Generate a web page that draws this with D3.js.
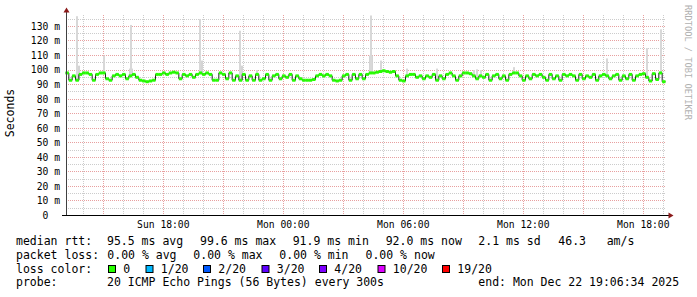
<!DOCTYPE html>
<html><head><meta charset="utf-8">
<script src="https://cdn.jsdelivr.net/npm/d3@7"></script>
<style>body{margin:0;background:#fff}svg{display:block}text{font-family:"DejaVu Sans Mono",monospace}</style>
</head><body><svg id="c" width="697" height="297"></svg>
<script>
// ---- data (10-minute steps, start Sun Dec 21 2025 13:06:34) ----
const startMs = Date.UTC(2025, 11, 21, 13, 6, 34);
const stepMin = 10;
const medianRtt = [
 98,93,96,93,97,98,98,97,93,97, 98,98,94,93,96,97,96,97,94,96,
 97,95,93,92.5,92,92.5,93,97,97,98, 97,98,98.5,98,94,97,96,97,95,97,
 98,97,98,97,93,93,98,97,94,98, 93,96,93,97,93,96,93,97,93,94,
 97,93,96,97,94,96,95,97,93,96, 94,93,93,93,93.5,96,97,96,97,96,
 93,92.5,93,96,97,93,97,94,97,94, 97,98,98,98.5,99,99.5,99,98.5,99,96,
 93,92.5,96,97,97,95,96,94,96,95, 97,93,96,94,97,98,96,93,96,98,
 98,97.5,96,94,96,95,97,93,96,97, 94,96,93,97,98,98,96,93,96,94,
 97,96,97,95,93,97,94,96,93,97, 96,97,96,93,97,94,96,95,97,93,
 96,97,96,94,96,97,93,96,94,97, 93,96,97,97.5,95,92.5,97.5,93.5,98,92
];
const spikeStep = [3, 11, 19, 40, 52, 57, 91, 94, 102, 111, 122, 123, 124, 134, 162, 174, 178];
const spikeHigh = [137, 110, 131, 135, 127, 100, 137.5, 106.5, 101, 101, 100, 100.5, 100, 102, 108, 115, 128];
const baseStep  = [3, 19, 40, 52, 91];
const baseHigh  = [103, 101, 106.5, 103, 110];
const yTicks = [0,10,20,30,40,50,60,70,80,90,100,110,120,130];
const xLabels = ["Sun 18:00","Mon 00:00","Mon 06:00","Mon 12:00","Mon 18:00"];
const lossLabels = ["0","1/20","2/20","3/20","4/20","10/20","19/20"];
const lossColors = ["#26ff00","#00b8ff","#0059ff","#5e00ff","#7e00ff","#dd00ff","#ff0000"];
const lossX = [108.5,146,203.5,262,319.5,378,442.5];
const rttStats = ["95.5 ms avg","99.6 ms max","91.9 ms min","92.0 ms now","2.1 ms sd"];
const rttX = [107,200,292.7,385.7,478.3];
const lossStats = ["0.00 % avg","0.00 % max","0.00 % min","0.00 % now"];
const lossStatX = [107.3,193.3,279.3,365.5];

// ---- scales ----
const t = i => new Date(startMs + i * stepMin * 60000);
const endDate = new Date(startMs + 30 * 3600000);
const x = d3.scaleUtc().domain([new Date(startMs), endDate]).range([65.5, 665.5]);
const y = d3.scaleLinear().domain([0, 137.5]).range([215.5, 15.5]);
const svg = d3.select("#c");
const px = v => Math.floor(v) + 0.5;

// ---- grid ----
const g = svg.append("g");
const minorY = d3.range(5, 137.5, 10);
g.selectAll(".gy").data(minorY).enter().append("line")
  .attr("x1", 66).attr("x2", 666).attr("y1", d => px(y(d))).attr("y2", d => px(y(d)))
  .attr("stroke", "#cccccc").attr("stroke-dasharray", "1,1");
const hours = d3.utcHour.range(new Date(startMs), endDate);
g.selectAll(".gx").data(hours.filter(h => h.getUTCHours() % 3 !== 0)).enter().append("line")
  .attr("y1", 15).attr("y2", 215).attr("x1", d => px(x(d))).attr("x2", d => px(x(d)))
  .attr("stroke", "#cccccc").attr("stroke-dasharray", "1,1");
g.selectAll(".my").data(yTicks.filter(d => d > 0)).enter().append("line")
  .attr("x1", 66).attr("x2", 666).attr("y1", d => px(y(d))).attr("y2", d => px(y(d)))
  .attr("stroke", "#e8a0a0").attr("stroke-dasharray", "1,1");
g.selectAll(".mx").data(hours.filter(h => h.getUTCHours() % 3 === 0)).enter().append("line")
  .attr("y1", 15).attr("y2", 215).attr("x1", d => px(x(d))).attr("x2", d => px(x(d)))
  .attr("stroke", "#e8a0a0").attr("stroke-dasharray", "1,1");

// ---- smoke ----
const sw = x(t(1)) - x(t(0));
svg.append("g").selectAll("rect").data(baseStep).enter().append("rect")
  .attr("x", d => Math.round(x(t(d)))).attr("width", 4)
  .attr("y", (d, i) => y(baseHigh[i]))
  .attr("height", (d, i) => Math.max(0, y(medianRtt[d]) - y(baseHigh[i])))
  .attr("fill", "#d4d4d4");
svg.append("g").selectAll("rect").data(spikeStep).enter().append("rect")
  .attr("x", d => Math.round(x(t(d)) + sw / 2 - 1)).attr("width", 2)
  .attr("y", (d, i) => y(spikeHigh[i]))
  .attr("height", (d, i) => Math.max(0, y(medianRtt[d]) - y(spikeHigh[i])))
  .attr("fill", "#d8d8d8");

// ---- median ----
const pts = medianRtt.map((v, i) => [x(t(i)), y(v)]);
pts.push([x(t(medianRtt.length)), y(medianRtt[medianRtt.length - 1])]);
svg.append("path").attr("d", d3.line().curve(d3.curveStepAfter)(pts))
  .attr("fill", "none").attr("stroke", "#202020").attr("stroke-width", 1);
svg.append("g").selectAll("rect").data(medianRtt).enter().append("rect")
  .attr("x", (d, i) => x(t(i))).attr("width", sw)
  .attr("y", d => y(d) - 1.5).attr("height", 3)
  .attr("fill", lossColors[0]);

// ---- axes ----
svg.append("line").attr("x1", 66.5).attr("x2", 66.5).attr("y1", 12).attr("y2", 216)
  .attr("stroke", "#404040");
svg.append("line").attr("x1", 62).attr("x2", 669).attr("y1", 215.5).attr("y2", 215.5)
  .attr("stroke", "#000");
svg.append("path").attr("d", "M63.5,12.5L66.5,7.5L69.5,12.5Z").attr("fill", "#8b1a1a");
svg.append("path").attr("d", "M668.5,212.5L673.5,215.5L668.5,218.5Z").attr("fill", "#8b1a1a");

// y labels
svg.append("g").selectAll("text").data(yTicks).enter().append("text")
  .attr("x", 60).attr("y", d => y(d)).attr("dy", "0.35em")
  .attr("text-anchor", "end").attr("font-size", "9.7px").attr("xml:space", "preserve")
  .text(d => d === 0 ? "0  " : d + " m");
// x labels
const labelTimes = hours.filter(h => h.getUTCHours() % 6 === 0);
svg.append("g").selectAll("text").data(labelTimes).enter().append("text")
  .attr("x", d => x(d)).attr("y", 228).attr("text-anchor", "middle").attr("font-size", "9.7px")
  .text((d, i) => xLabels[i]);

// y title
svg.append("text").attr("transform", "translate(14,113) rotate(-90)")
  .attr("text-anchor", "middle").attr("font-size", "11.5px").text("Seconds");
// watermark
svg.append("text").attr("transform", "translate(684.5,5) rotate(90)")
  .attr("font-size", "8.7px").attr("fill", "#b0b0b0").text("RRDTOOL / TOBI OETIKER");

// ---- legend ----
const L = svg.append("g").attr("font-size", "11.5px");
const rows = [245.3, 259, 272.7, 286.3];
L.append("text").attr("x", 16).attr("y", rows[0]).text("median rtt:");
rttStats.forEach((s, i) => L.append("text").attr("x", rttX[i]).attr("y", rows[0]).text(s));
L.append("text").attr("x", 558.3).attr("y", rows[0]).text("46.3");
L.append("text").attr("x", 606.7).attr("y", rows[0]).text("am/s");
L.append("text").attr("x", 16).attr("y", rows[1]).text("packet loss:");
lossStats.forEach((s, i) => L.append("text").attr("x", lossStatX[i]).attr("y", rows[1]).text(s));
L.append("text").attr("x", 16).attr("y", rows[2]).text("loss color:");
lossLabels.forEach((s, i) => {
  L.append("rect").attr("x", lossX[i]).attr("y", 265.5).attr("width", 7).attr("height", 7)
    .attr("fill", lossColors[i]).attr("stroke", "#000").attr("stroke-width", 1);
  L.append("text").attr("x", lossX[i] + 14.8).attr("y", rows[2]).text(s);
});
L.append("text").attr("x", 16).attr("y", rows[3]).text("probe:");
L.append("text").attr("x", 107).attr("y", rows[3]).text("20 ICMP Echo Pings (56 Bytes) every 300s");
L.append("text").attr("x", 478.3).attr("y", rows[3]).text("end: Mon Dec 22 19:06:34 2025");
</script></body></html>
